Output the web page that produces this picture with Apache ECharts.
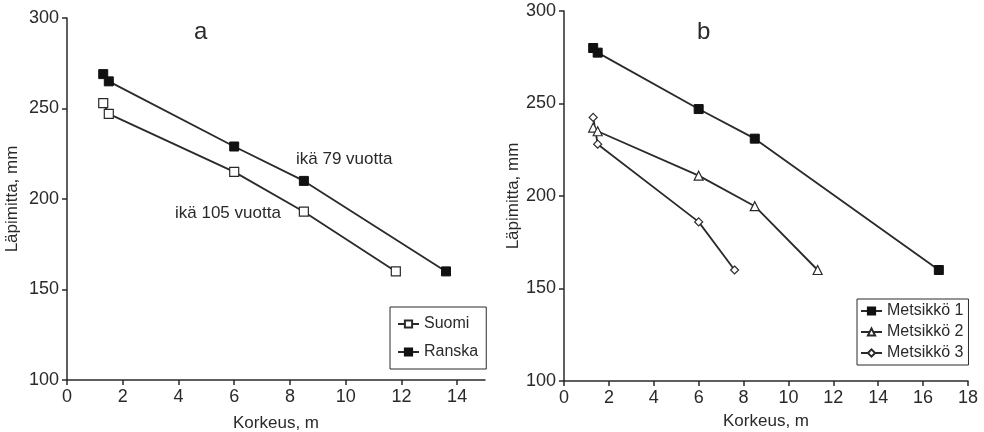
<!DOCTYPE html>
<html>
<head>
<meta charset="utf-8">
<script src="https://cdn.jsdelivr.net/npm/echarts@6/dist/echarts.min.js"></script>
<style>
  html, body { margin: 0; padding: 0; background: #fff; }
  #chart { width: 984px; height: 432px; }
</style>
</head>
<body>
<div id="chart"></div>
<script>
// Panel a: stem diameter vs height, two origins
const suomi = [[1.3, 253], [1.5, 247], [6, 215], [8.5, 193], [11.8, 160]];
const ranska = [[1.3, 269], [1.5, 265], [6, 229], [8.5, 210], [13.6, 160]];

// Panel b: three stands
const metsikko1 = [[1.3, 280], [1.5, 277.5], [6, 247], [8.5, 231], [16.7, 160]];
const metsikko2 = [[1.3, 237], [1.5, 235], [6, 211], [8.5, 194.5], [11.3, 160]];
const metsikko3 = [[1.3, 242.5], [1.5, 228], [6, 186], [7.6, 160]];

const xTicksA = [0, 2, 4, 6, 8, 10, 12, 14];
const xTicksB = [0, 2, 4, 6, 8, 10, 12, 14, 16, 18];

const ink = '#2a2a2a';
const font = '"Liberation Sans", Arial, sans-serif';

const chart = echarts.init(document.getElementById('chart'));

function yAxisOpt(gridIndex, gap) {
    return {
        type: 'value',
        gridIndex: gridIndex,
        min: 100,
        max: 300,
        interval: 50,
        name: 'Läpimitta, mm',
        nameLocation: 'middle',
        nameGap: gap,
        nameTextStyle: { color: ink, fontSize: 17, fontFamily: font },
        axisLine: { show: true, lineStyle: { color: ink, width: 1.5 } },
        axisTick: { show: true, length: 5, lineStyle: { color: ink, width: 1.5 } },
        axisLabel: { color: ink, fontSize: 18, fontFamily: font, margin: 8 },
        splitLine: { show: false }
    };
}

function xAxisOpt(gridIndex, max, ticks, gap) {
    return {
        type: 'value',
        gridIndex: gridIndex,
        min: 0,
        max: max,
        interval: 2,
        name: 'Korkeus, m',
        nameLocation: 'middle',
        nameGap: gap,
        nameTextStyle: { color: ink, fontSize: 17, fontFamily: font },
        axisLine: { show: true, onZero: false, lineStyle: { color: ink, width: 1.5 } },
        axisTick: { show: true, length: 5, customValues: ticks, lineStyle: { color: ink, width: 1.5 } },
        axisLabel: { color: ink, fontSize: 18, fontFamily: font, margin: 8, customValues: ticks },
        splitLine: { show: false }
    };
}

function lineSeries(name, data, idx, symbol, size, filled) {
    return {
        name: name,
        type: 'line',
        xAxisIndex: idx,
        yAxisIndex: idx,
        data: data,
        symbol: symbol,
        symbolSize: size,
        showAllSymbol: true,
        lineStyle: { color: ink, width: 1.8 },
        itemStyle: filled
            ? { color: '#111', borderColor: '#111', borderWidth: 1 }
            : { color: '#fff', borderColor: ink, borderWidth: 1.2 },
        emphasis: { disabled: true }
    };
}

const legendText = { color: ink, fontSize: 16, fontFamily: font };

const option = {
    animation: false,
    backgroundColor: '#fff',
    grid: [
        { left: 67, top: 18, right: 499, bottom: 52, outerBoundsMode: 'none' },
        { left: 564, top: 11, right: 16, bottom: 51, outerBoundsMode: 'none' }
    ],
    xAxis: [xAxisOpt(0, 15, xTicksA, 35), xAxisOpt(1, 18, xTicksB, 32)],
    yAxis: [yAxisOpt(0, 46), yAxisOpt(1, 42)],
    legend: [
        {
            data: ['Suomi', 'Ranska'],
            orient: 'vertical',
            left: 390,
            top: 307,
            padding: [9, 8, 9, 7],
            itemGap: 12,
            itemWidth: 21,
            itemHeight: 9,
            borderColor: ink,
            borderWidth: 1,
            textStyle: legendText,
            selectedMode: false
        },
        {
            data: ['Metsikkö 1', 'Metsikkö 2', 'Metsikkö 3'],
            orient: 'vertical',
            left: 857,
            top: 299,
            padding: [4, 5, 4, 3],
            itemGap: 5,
            itemWidth: 21,
            itemHeight: 9,
            borderColor: ink,
            borderWidth: 1,
            textStyle: legendText,
            selectedMode: false
        }
    ],
    graphic: [
        { type: 'text', left: 194, top: 20, style: { text: 'a', fill: ink, fontSize: 24, fontFamily: font } },
        { type: 'text', left: 697, top: 20, style: { text: 'b', fill: ink, fontSize: 24, fontFamily: font } },
        { type: 'text', left: 296, top: 151, style: { text: 'ikä 79 vuotta', fill: ink, fontSize: 17, fontFamily: font } },
        { type: 'text', left: 175, top: 205, style: { text: 'ikä 105 vuotta', fill: ink, fontSize: 17, fontFamily: font } }
    ],
    series: [
        lineSeries('Suomi', suomi, 0, 'rect', 9, false),
        lineSeries('Ranska', ranska, 0, 'rect', 9, true),
        lineSeries('Metsikkö 1', metsikko1, 1, 'rect', 9, true),
        lineSeries('Metsikkö 2', metsikko2, 1, 'triangle', 9, false),
        lineSeries('Metsikkö 3', metsikko3, 1, 'diamond', 8, false)
    ]
};

chart.setOption(option);
</script>
</body>
</html>
